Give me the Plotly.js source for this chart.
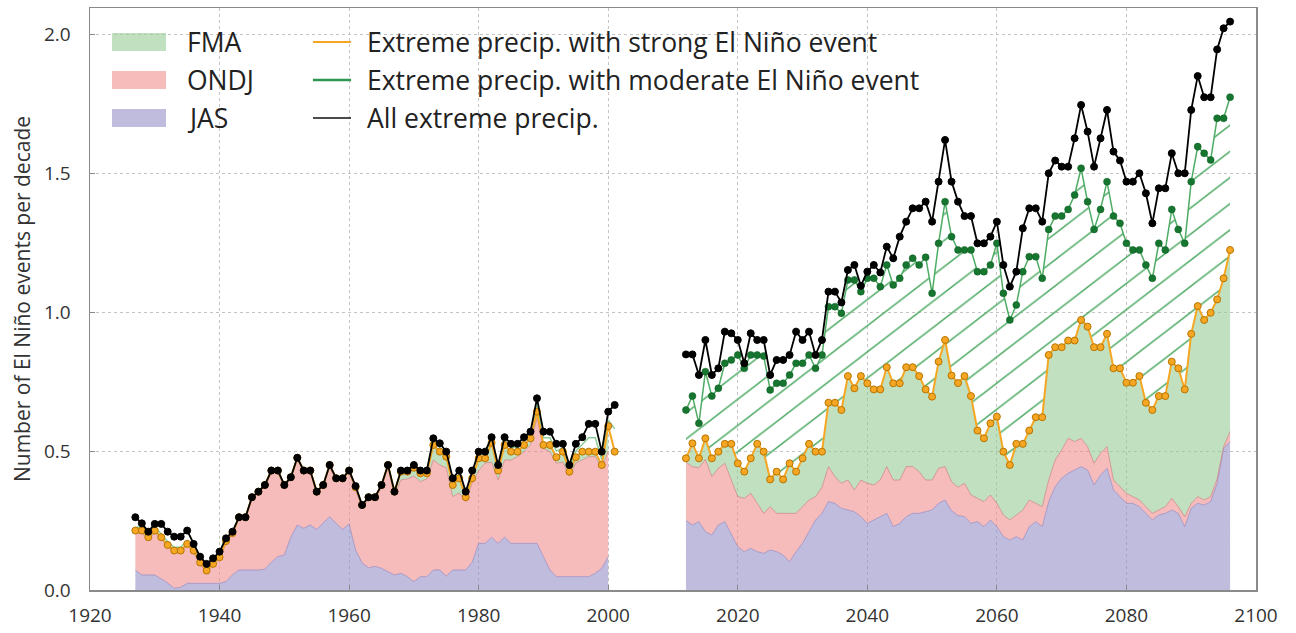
<!DOCTYPE html>
<html><head><meta charset="utf-8">
<script src="https://cdn.plot.ly/plotly-3.0.1.min.js"></script>
<style>html,body{margin:0;padding:0;background:#fff}#chart{width:1296px;height:633px}</style>
</head><body><div id="chart"></div>
<script>
// ---------- data ----------
const histYears = [1927,1928,1929,1930,1931,1932,1933,1934,1935,1936,1937,1938,1939,1940,1941,1942,1943,1944,1945,1946,1947,1948,1949,1950,1951,1952,1953,1954,1955,1956,1957,1958,1959,1960,1961,1962,1963,1964,1965,1966,1967,1968,1969,1970,1971,1972,1973,1974,1975,1976,1977,1978,1979,1980,1981,1982,1983,1984,1985,1986,1987,1988,1989,1990,1991,1992,1993,1994,1995,1996,1997,1998,1999,2000,2001];
const histAll = [0.262,0.240,0.210,0.238,0.238,0.210,0.192,0.192,0.214,0.166,
 0.120,0.094,0.114,0.138,0.186,0.210,0.262,0.262,0.334,0.354,
 0.378,0.430,0.430,0.378,0.406,0.476,0.430,0.430,0.354,0.378,
 0.450,0.402,0.402,0.430,0.374,0.306,0.334,0.334,0.378,0.450,
 0.354,0.430,0.430,0.450,0.430,0.430,0.546,0.528,0.498,0.402,
 0.430,0.354,0.430,0.498,0.498,0.550,0.450,0.550,0.526,0.526,
 0.550,0.570,0.690,0.570,0.570,0.526,0.526,0.450,0.526,0.550,
 0.598,0.598,0.498,0.642,0.666];
const histStrong = [0.214,0.214,0.190,0.214,0.190,0.162,0.142,0.142,0.166,0.142,
 0.099,0.070,0.094,0.118,0.176,0.205,0.262,0.262,0.334,0.354,
 0.378,0.430,0.430,0.378,0.406,0.476,0.430,0.430,0.354,0.378,
 0.450,0.402,0.402,0.430,0.370,0.306,0.334,0.334,0.378,0.450,
 0.354,0.426,0.426,0.440,0.420,0.420,0.522,0.498,0.480,0.378,
 0.402,0.334,0.402,0.474,0.474,0.530,0.430,0.522,0.498,0.498,
 0.522,0.546,0.642,0.522,0.522,0.478,0.498,0.426,0.478,0.498,
 0.498,0.498,0.450,0.590,0.498];
const histModerate = [0.226,0.226,0.202,0.226,0.202,0.174,0.154,0.154,0.178,0.154,
 0.110,0.082,0.104,0.128,0.180,0.208,0.262,0.262,0.334,0.354,
 0.378,0.430,0.430,0.378,0.406,0.476,0.430,0.430,0.354,0.378,
 0.450,0.402,0.402,0.430,0.372,0.306,0.334,0.334,0.378,0.450,
 0.354,0.428,0.428,0.446,0.426,0.426,0.536,0.514,0.490,0.392,
 0.418,0.346,0.418,0.488,0.488,0.542,0.442,0.538,0.514,0.514,
 0.538,0.560,0.668,0.548,0.548,0.500,0.512,0.436,0.500,0.524,
 0.548,0.548,0.470,0.612,0.580];
// stacked area tops, 1927-2000
const histOndjTop = [0.205,0.205,0.182,0.205,0.182,0.155,0.135,0.135,0.158,0.135,
 0.092,0.064,0.088,0.112,0.170,0.200,0.256,0.256,0.328,0.348,
 0.372,0.424,0.424,0.372,0.400,0.470,0.424,0.424,0.348,0.372,
 0.444,0.396,0.396,0.424,0.360,0.296,0.326,0.326,0.368,0.440,
 0.340,0.396,0.400,0.410,0.390,0.400,0.468,0.450,0.440,0.336,
 0.350,0.318,0.385,0.430,0.457,0.460,0.396,0.468,0.468,0.480,
 0.498,0.522,0.620,0.510,0.498,0.457,0.460,0.410,0.457,0.468,
 0.480,0.480,0.440,0.500];
const histJasTop = [0.072,0.054,0.054,0.054,0.040,0.025,0.006,0.010,0.024,0.024,
 0.024,0.024,0.024,0.024,0.030,0.055,0.072,0.072,0.072,0.072,
 0.075,0.100,0.120,0.126,0.190,0.234,0.222,0.234,0.218,0.240,
 0.264,0.240,0.218,0.238,0.144,0.098,0.080,0.085,0.078,0.066,
 0.054,0.060,0.048,0.030,0.048,0.048,0.072,0.072,0.050,0.072,
 0.072,0.072,0.100,0.168,0.168,0.190,0.168,0.190,0.168,0.168,
 0.168,0.168,0.168,0.120,0.072,0.048,0.048,0.048,0.048,0.048,
 0.048,0.060,0.078,0.120];

const futYears = [2012,2013,2014,2015,2016,2017,2018,2019,2020,2021,2022,2023,2024,2025,2026,2027,2028,2029,2030,2031,2032,2033,2034,2035,2036,2037,2038,2039,2040,2041,2042,2043,2044,2045,2046,2047,2048,2049,2050,2051,2052,2053,2054,2055,2056,2057,2058,2059,2060,2061,2062,2063,2064,2065,2066,2067,2068,2069,2070,2071,2072,2073,2074,2075,2076,2077,2078,2079,2080,2081,2082,2083,2084,2085,2086,2087,2088,2089,2090,2091,2092,2093,2094,2095,2096];
const futAll = [0.848,0.848,0.774,0.900,0.774,0.798,0.930,0.924,0.900,0.816,
 0.924,0.900,0.900,0.774,0.828,0.828,0.846,0.930,0.900,0.930,
 0.846,0.900,1.074,1.074,1.035,1.152,1.170,1.095,1.146,1.170,
 1.143,1.236,1.194,1.272,1.326,1.374,1.374,1.398,1.326,1.470,
 1.620,1.470,1.398,1.346,1.346,1.248,1.248,1.272,1.326,1.170,
 1.092,1.146,1.302,1.374,1.374,1.326,1.500,1.546,1.524,1.524,
 1.626,1.746,1.650,1.524,1.626,1.728,1.578,1.546,1.470,1.470,
 1.500,1.428,1.320,1.446,1.446,1.572,1.500,1.500,1.728,1.850,
 1.774,1.774,1.946,2.022,2.046];
const futModerate = [0.648,0.698,0.600,0.786,0.698,0.726,0.816,0.828,0.846,0.798,
 0.846,0.846,0.842,0.720,0.744,0.744,0.774,0.816,0.816,0.846,
 0.798,0.846,1.020,1.020,0.996,1.116,1.116,1.074,1.122,1.122,
 1.092,1.170,1.098,1.122,1.170,1.194,1.170,1.198,1.068,1.248,
 1.398,1.272,1.224,1.224,1.224,1.146,1.146,1.170,1.248,1.068,
 0.972,1.026,1.146,1.200,1.200,1.122,1.298,1.346,1.346,1.370,
 1.422,1.518,1.398,1.298,1.370,1.470,1.346,1.320,1.248,1.224,
 1.224,1.170,1.122,1.248,1.224,1.370,1.298,1.248,1.470,1.596,
 1.572,1.548,1.698,1.698,1.774];
const futStrong = [0.474,0.528,0.474,0.546,0.474,0.498,0.526,0.526,0.456,0.426,
 0.474,0.526,0.498,0.398,0.426,0.398,0.456,0.426,0.474,0.526,
 0.498,0.498,0.674,0.674,0.648,0.770,0.726,0.770,0.744,0.722,
 0.722,0.802,0.744,0.744,0.802,0.802,0.770,0.722,0.696,0.822,
 0.900,0.772,0.745,0.770,0.698,0.574,0.546,0.600,0.624,0.498,
 0.450,0.526,0.526,0.574,0.622,0.622,0.846,0.874,0.874,0.898,
 0.898,0.972,0.948,0.874,0.874,0.922,0.798,0.798,0.746,0.746,
 0.770,0.674,0.648,0.698,0.698,0.822,0.798,0.722,0.922,1.022,
 0.972,0.998,1.046,1.122,1.224];
const futOndjTop = [0.460,0.444,0.440,0.470,0.408,0.438,0.456,0.396,0.336,0.330,
 0.348,0.312,0.276,0.300,0.276,0.276,0.276,0.276,0.300,0.324,
 0.336,0.370,0.444,0.408,0.384,0.396,0.360,0.396,0.384,0.378,
 0.396,0.444,0.396,0.396,0.444,0.444,0.426,0.396,0.396,0.438,
 0.444,0.390,0.370,0.384,0.342,0.330,0.318,0.342,0.312,0.270,
 0.252,0.270,0.288,0.324,0.312,0.300,0.396,0.468,0.504,0.546,
 0.534,0.546,0.516,0.456,0.492,0.516,0.396,0.372,0.348,0.336,
 0.324,0.300,0.276,0.288,0.300,0.330,0.300,0.264,0.312,0.336,
 0.324,0.336,0.400,0.516,0.570];
const futJasTop = [0.250,0.234,0.246,0.210,0.198,0.234,0.246,0.198,0.156,0.138,
 0.150,0.138,0.132,0.144,0.138,0.126,0.102,0.138,0.168,0.210,
 0.252,0.276,0.318,0.312,0.294,0.288,0.282,0.264,0.240,0.252,
 0.264,0.276,0.228,0.240,0.264,0.276,0.276,0.282,0.288,0.312,
 0.324,0.285,0.268,0.264,0.240,0.246,0.228,0.252,0.228,0.192,
 0.180,0.192,0.180,0.228,0.246,0.228,0.318,0.372,0.402,0.420,
 0.432,0.444,0.432,0.378,0.414,0.438,0.360,0.336,0.312,0.312,
 0.300,0.276,0.252,0.270,0.276,0.288,0.276,0.228,0.294,0.312,
 0.306,0.318,0.384,0.510,0.534];

const xTicks = [1920,1940,1960,1980,2000,2020,2040,2060,2080,2100];
const yTicks = [0,0.5,1,1.5,2];
const yTickText = ['0.0','0.5','1.0','1.5','2.0'];
const areaNames = ['FMA','ONDJ','JAS'];
const lineNames = ['Extreme precip. with strong El Niño event','Extreme precip. with moderate El Niño event','All extreme precip.'];
const yTitle = 'Number of El Niño events per decade';

// ---------- styles ----------
const FILL = {FMA:'rgba(150,203,150,0.6)', ONDJ:'rgba(240,143,143,0.6)', JAS:'rgba(150,143,200,0.6)'};
const EDGE = {FMA:'rgba(0,0,0,0)', ONDJ:'rgba(205,120,120,0.8)', JAS:'rgba(140,130,190,0.8)'};
const ORANGE = '#f5a623', ORANGE_EDGE = '#b87500';
const GREEN_LINE = 'rgb(78,172,100)', GREEN_MARK = 'rgb(22,118,48)';
const HATCH = 'rgb(82,172,104)';

const histAreaYears = histYears.slice(0, histJasTop.length);

function area(x, y, fill, key) {
  return {type:'scatter', mode:'lines', x:x, y:y, fill:fill, fillcolor:FILL[key],
          line:{color:EDGE[key], width:0.8}, showlegend:false, hoverinfo:'skip', name:key};
}
function dotted(x, y, color, mcolor, medge, w, name) {
  return {type:'scatter', mode:'lines+markers', x:x, y:y, name:name, showlegend:false,
          line:{color:color, width:w}, marker:{color:mcolor, size:7, line:{color:medge, width:1}}};
}

const traces = [
  area(histAreaYears, histJasTop, 'tozeroy', 'JAS'),
  area(histAreaYears, histOndjTop, 'tonexty', 'ONDJ'),
  area(histAreaYears, histStrong.slice(0, histAreaYears.length), 'tonexty', 'FMA'),
  area(futYears, futJasTop, 'tozeroy', 'JAS'),
  area(futYears, futOndjTop, 'tonexty', 'ONDJ'),
  area(futYears, futStrong, 'tonexty', 'FMA'),
  {type:'scatter', mode:'lines+markers', x:futYears, y:futModerate, name:lineNames[1], showlegend:false,
   fill:'tonexty', fillcolor:'rgba(255,255,255,0)',
   fillpattern:{shape:'/', fgcolor:HATCH, bgcolor:'rgba(255,255,255,0)', size:18.5, solidity:0.08},
   line:{color:GREEN_LINE, width:1.5}, marker:{color:GREEN_MARK, size:7, line:{color:'rgb(10,90,30)', width:0.5}}},
  {type:'scatter', mode:'lines', x:histYears, y:histModerate, name:lineNames[1], showlegend:false,
   line:{color:'rgb(140,205,150)', width:1.5}},
  dotted(histYears, histStrong, ORANGE, ORANGE, ORANGE_EDGE, 2, lineNames[0]),
  dotted(histYears, histAll, '#000', '#000', '#000', 1.8, lineNames[2]),
  dotted(futYears, futStrong, ORANGE, ORANGE, ORANGE_EDGE, 2, lineNames[0]),
  dotted(futYears, futAll, '#000', '#000', '#000', 1.8, lineNames[2])
];

// ---------- legend drawn as shapes + text (two columns like the reference) ----------
const PW = 1166, PH = 582;            // plot area size in px
const px = v => (v - 90) / PW;       // paper x from pixel
const py = v => (590 - v) / PH;      // paper y from pixel
const rowY = [42, 80, 118];
const shapes = [], annotations = [];
areaNames.forEach((n, i) => {
  shapes.push({type:'rect', xref:'paper', yref:'paper', x0:px(112), x1:px(166), y0:py(rowY[i]+9), y1:py(rowY[i]-9),
               fillcolor:FILL[n], line:{width:0}});
  annotations.push({xref:'paper', yref:'paper', x:px(185), y:py(rowY[i]), xanchor:'left', yanchor:'middle',
                    text:n, showarrow:false, font:{size:26.5, color:'#222'}});
});
const lineCols = [[ORANGE,2.2],['rgb(46,150,80)',2.5],['#111',1.6]];
lineNames.forEach((n, i) => {
  shapes.push({type:'line', xref:'paper', yref:'paper', x0:px(313), x1:px(351), y0:py(rowY[i]), y1:py(rowY[i]),
               line:{color:lineCols[i][0], width:lineCols[i][1]}});
  annotations.push({xref:'paper', yref:'paper', x:px(365), y:py(rowY[i]), xanchor:'left', yanchor:'middle',
                    text:n, showarrow:false, font:{size:26.5, color:'#222'}});
});

const axisCommon = {showgrid:true, gridcolor:'#c4c4c4', griddash:'dot', gridwidth:1, zeroline:false,
  showline:true, linecolor:'#8a8a8a', linewidth:1.5, mirror:true, ticks:'inside', ticklen:5, tickcolor:'#8a8a8a',
  tickfont:{size:19, color:'#333', family:'Open Sans, sans-serif'}};

const layout = {
  width:1296, height:633, margin:{l:90, r:40, t:8, b:43},
  paper_bgcolor:'#fff', plot_bgcolor:'#fff', showlegend:false,
  font:{family:'Open Sans, sans-serif', color:'#333'},
  xaxis:Object.assign({}, axisCommon, {range:[1920,2100], tickvals:xTicks, ticktext:xTicks.map(String), ticklabelstandoff:8}),
  yaxis:Object.assign({}, axisCommon, {range:[0,2.095], tickvals:yTicks, ticktext:yTickText, ticklabelstandoff:14,
    title:{text:yTitle, font:{size:21, color:'#333'}, standoff:7}}),
  shapes:shapes, annotations:annotations
};

Plotly.newPlot('chart', traces, layout, {displayModeBar:false, staticPlot:true}).then(() => {
  // flatten the hatch angle and set its line weight to match the reference's shallower diagonal hatching
  document.querySelectorAll('#chart pattern').forEach(p => {
    p.setAttribute('patternTransform', 'scale(1.3,1)');
    p.querySelectorAll('path').forEach(pa => { pa.style.strokeWidth = '1.4px'; });
  });
});
</script>
</body></html>
